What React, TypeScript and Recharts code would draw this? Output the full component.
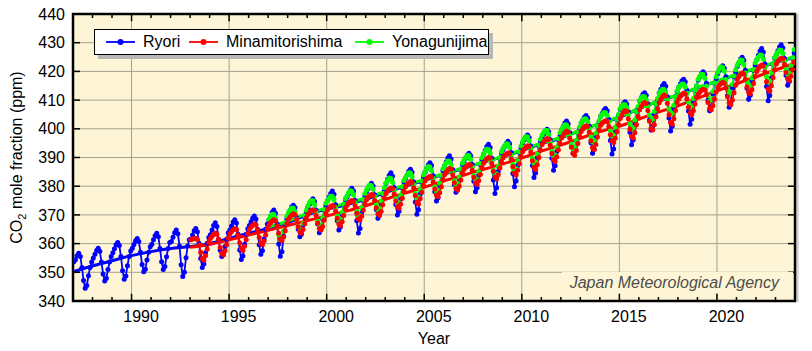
import React from 'react';
import {
    LineChart,
    Line,
    XAxis,
    YAxis,
    CartesianGrid,
    ReferenceLine,
    ReferenceArea,
    Legend,
    Label
} from 'recharts';

// monthly CO2 (ppm), one row per year, Jan..Dec
const ryoriStart = 1987;
const ryori = [
    353.7, 354.4, 355.8, 356.6, 355.5, 351.7, 347.1, 344.4, 345.4, 348.8, 351.7, 353.6, // 1987
    355.0, 356.3, 357.6, 358.4, 357.3, 353.6, 349.4, 347.0, 347.9, 351.0, 353.6, 355.5,
    356.8, 358.2, 359.6, 360.4, 359.3, 355.5, 350.5, 347.6, 348.7, 352.3, 355.5, 357.4,
    358.4, 359.7, 361.0, 361.8, 360.7, 357.0, 352.7, 350.2, 351.1, 354.3, 357.0, 358.9, // 1990
    359.8, 361.3, 362.7, 363.6, 362.4, 358.3, 353.7, 351.0, 352.0, 355.4, 358.3, 360.4,
    360.7, 362.2, 363.8, 364.7, 363.4, 359.2, 352.6, 348.5, 350.0, 355.1, 359.2, 361.3,
    361.5, 363.0, 364.5, 365.3, 364.1, 360.1, 354.8, 351.7, 352.9, 356.8, 360.1, 362.1,
    363.1, 364.7, 366.3, 367.3, 366.0, 361.5, 357.7, 355.5, 356.3, 359.0, 361.5, 363.8,
    364.7, 366.1, 367.5, 368.3, 367.2, 363.3, 357.8, 354.5, 355.7, 359.8, 363.3, 365.2, // 1995
    366.3, 367.6, 368.8, 369.6, 368.6, 365.0, 359.6, 356.3, 357.5, 361.6, 365.0, 366.8,
    368.2, 369.5, 370.9, 371.7, 370.6, 366.8, 359.9, 355.6, 357.2, 362.6, 366.8, 368.7,
    370.4, 371.6, 372.8, 373.4, 372.6, 369.1, 365.0, 362.4, 363.3, 366.5, 369.1, 370.9,
    372.7, 373.8, 374.9, 375.6, 374.7, 371.6, 366.8, 363.8, 364.9, 368.6, 371.6, 373.2,
    374.9, 376.2, 377.5, 378.3, 377.2, 373.5, 368.0, 364.7, 365.9, 370.1, 373.5, 375.4, // 2000
    376.2, 377.4, 378.6, 379.3, 378.3, 375.0, 368.0, 363.7, 365.3, 370.7, 375.0, 376.7,
    378.1, 379.2, 380.3, 381.0, 380.1, 377.0, 371.9, 368.8, 370.0, 373.9, 377.0, 378.6,
    380.9, 382.4, 383.8, 384.7, 383.5, 379.5, 373.6, 370.0, 371.3, 375.8, 379.5, 381.5,
    382.7, 383.9, 385.2, 385.9, 384.9, 381.5, 374.5, 370.2, 371.8, 377.2, 381.5, 383.2,
    384.9, 386.2, 387.4, 388.2, 387.2, 383.6, 378.1, 374.8, 376.0, 380.2, 383.6, 385.4, // 2005
    387.1, 388.4, 389.8, 390.6, 389.5, 385.7, 380.5, 377.9, 379.0, 382.6, 385.7, 387.6,
    388.7, 389.8, 390.9, 391.5, 390.6, 387.6, 381.7, 378.1, 379.5, 383.9, 387.6, 389.2,
    391.1, 392.4, 393.8, 394.6, 393.5, 389.7, 382.2, 377.5, 379.5, 385.1, 389.7, 391.6,
    392.8, 393.9, 395.0, 395.7, 394.8, 391.7, 384.4, 379.8, 381.8, 387.3, 391.7, 393.3,
    395.1, 396.1, 397.2, 397.8, 397.0, 394.0, 387.2, 383.0, 384.6, 390.0, 394.0, 395.5, // 2010
    397.2, 398.2, 399.2, 399.8, 399.0, 396.2, 389.7, 385.6, 387.1, 392.2, 396.2, 397.6,
    399.7, 400.9, 402.0, 402.7, 401.8, 398.6, 394.1, 391.5, 392.5, 395.8, 398.6, 400.2,
    402.0, 403.0, 404.0, 404.6, 403.8, 401.0, 395.1, 391.5, 392.9, 397.4, 401.0, 402.4,
    404.4, 405.4, 406.5, 407.1, 406.3, 403.3, 395.9, 391.2, 393.0, 398.8, 403.3, 404.8,
    406.9, 407.8, 408.8, 409.4, 408.6, 405.9, 398.8, 394.4, 396.1, 401.6, 405.9, 407.3, // 2015
    409.8, 410.9, 412.0, 412.6, 411.7, 408.7, 403.1, 399.6, 400.9, 405.2, 408.7, 410.2,
    412.5, 413.8, 415.0, 415.8, 414.8, 411.2, 403.8, 399.2, 400.9, 406.7, 411.2, 413.0,
    414.5, 415.6, 416.7, 417.3, 416.4, 413.4, 406.2, 401.6, 403.3, 409.0, 413.4, 414.9,
    417.0, 418.1, 419.2, 419.9, 419.0, 415.9, 409.9, 406.3, 407.7, 412.2, 415.9, 417.4,
    419.2, 420.3, 421.4, 422.0, 421.1, 418.1, 411.6, 407.5, 409.0, 414.1, 418.1, 419.6, // 2020
    421.7, 422.9, 424.2, 424.9, 423.9, 420.4, 414.1, 410.3, 411.7, 416.5, 420.4, 422.2,
    424.1, 425.6, 427.1, 428.0, 426.8, 422.6, 414.7, 409.8, 411.6, 417.7, 422.6, 424.7,
    425.9, 427.2, 428.5, 429.3, 428.2, 424.5, 418.7, 415.2, 416.5, 420.9, 424.5, 426.4,
];

const minamiStart = 1993;
const minami = [
    361.3, 361.6, 361.8, 361.9, 361.4, 359.5, 357.0, 354.8, 354.3, 355.8, 358.0, 360.4, // 1993
    361.8, 362.6, 363.2, 363.6, 363.3, 361.5, 358.6, 356.6, 356.0, 357.5, 359.6, 361.9,
    363.4, 364.2, 364.8, 365.2, 364.9, 363.0, 360.3, 358.2, 357.6, 359.1, 361.3, 363.5, // 1995
    365.0, 365.8, 366.4, 366.8, 366.5, 364.8, 362.2, 360.2, 359.6, 360.9, 363.0, 365.2,
    366.5, 367.3, 367.9, 368.3, 368.0, 366.2, 363.6, 361.6, 361.0, 362.3, 364.5, 366.9,
    368.5, 369.3, 369.9, 370.4, 370.1, 368.4, 365.9, 364.1, 363.6, 364.9, 366.9, 369.0,
    370.1, 370.9, 371.5, 371.8, 371.5, 369.8, 367.2, 365.3, 364.7, 366.0, 368.2, 370.5,
    371.7, 372.5, 373.0, 373.3, 373.0, 371.3, 368.8, 366.8, 366.2, 367.6, 369.8, 372.2, // 2000
    373.4, 374.2, 374.7, 375.0, 374.7, 373.1, 370.6, 368.7, 368.2, 369.5, 371.6, 373.9,
    375.3, 376.2, 376.7, 377.1, 376.8, 375.0, 372.5, 370.4, 369.8, 371.2, 373.5, 375.9,
    377.5, 378.4, 379.0, 379.4, 379.1, 377.3, 374.8, 372.8, 372.3, 373.7, 375.8, 378.3,
    379.8, 380.6, 381.2, 381.6, 381.3, 379.5, 376.8, 374.4, 373.8, 375.6, 377.9, 380.3,
    381.8, 382.6, 383.1, 383.5, 383.2, 381.5, 379.0, 376.9, 376.3, 377.7, 379.8, 382.3, // 2005
    384.0, 384.9, 385.7, 386.2, 385.9, 384.0, 381.2, 379.2, 378.6, 380.0, 382.2, 384.6,
    385.9, 386.7, 387.2, 387.6, 387.3, 385.6, 383.1, 381.2, 380.6, 381.9, 384.1, 386.5,
    388.0, 388.9, 389.6, 390.0, 389.7, 387.9, 385.2, 383.2, 382.6, 384.0, 386.3, 388.6,
    389.9, 390.7, 391.2, 391.6, 391.3, 389.5, 386.8, 384.6, 384.0, 385.6, 387.8, 390.4,
    392.0, 393.0, 393.7, 394.1, 393.8, 391.9, 388.9, 386.5, 385.8, 387.5, 390.0, 392.6, // 2010
    394.5, 395.5, 396.2, 396.6, 396.3, 394.3, 391.4, 389.2, 388.6, 390.2, 392.6, 395.0,
    396.8, 397.8, 398.6, 399.2, 398.8, 396.7, 393.6, 391.4, 390.8, 392.4, 394.9, 397.6,
    399.1, 400.0, 400.7, 401.1, 400.8, 398.8, 395.8, 393.4, 392.8, 394.5, 397.1, 399.6,
    401.2, 402.0, 402.5, 402.8, 402.5, 400.8, 397.9, 395.8, 395.2, 396.7, 399.0, 401.5,
    403.6, 404.8, 405.8, 406.4, 406.0, 403.5, 399.8, 397.4, 396.8, 398.6, 401.4, 404.3, // 2015
    406.6, 407.8, 408.7, 409.2, 408.8, 406.4, 402.6, 400.2, 399.6, 401.4, 404.2, 407.0,
    409.1, 410.3, 411.2, 411.8, 411.4, 408.9, 404.9, 402.3, 401.6, 403.5, 406.4, 409.2,
    410.4, 411.3, 411.9, 412.4, 412.1, 410.4, 407.5, 405.6, 405.0, 406.3, 408.6, 411.0,
    412.0, 412.8, 413.4, 413.8, 413.5, 411.9, 409.2, 407.2, 406.6, 408.0, 410.3, 412.8,
    414.4, 415.2, 415.8, 416.2, 415.9, 414.2, 411.2, 409.0, 408.4, 410.0, 412.6, 415.2, // 2020
    417.3, 418.2, 418.9, 419.4, 419.1, 417.3, 414.6, 412.8, 412.2, 413.6, 415.8, 418.2,
    420.0, 421.0, 421.8, 422.2, 421.9, 419.8, 416.4, 413.9, 413.2, 415.0, 417.8, 420.5,
    422.6, 423.5, 424.2, 424.6, 424.3, 422.5, 419.6, 417.4, 416.8, 418.3, 420.7, 423.3,
];

const yonaguniStart = 1997;
const yonaguni = [
    368.5, 369.5, 370.2, 370.1, 368.8, 366.1, 363.1, 361.3, 361.8, 364.4, 367.3, 369.4, // 1997
    370.8, 371.7, 372.4, 372.3, 371.1, 368.6, 366.0, 364.4, 364.8, 367.0, 369.6, 371.6,
    373.2, 374.3, 375.0, 374.9, 373.6, 370.8, 367.8, 366.0, 366.4, 369.0, 371.9, 374.1,
    374.9, 375.8, 376.5, 376.4, 375.2, 372.6, 369.6, 367.8, 368.3, 370.8, 373.7, 375.7, // 2000
    376.7, 377.7, 378.4, 378.2, 377.0, 374.3, 371.2, 369.4, 369.9, 372.5, 375.4, 377.5,
    378.7, 379.6, 380.3, 380.2, 379.0, 376.4, 373.6, 371.9, 372.3, 374.8, 377.5, 379.5,
    381.1, 382.1, 382.9, 382.7, 381.4, 378.6, 375.6, 373.8, 374.2, 376.8, 379.8, 382.0,
    383.0, 384.0, 384.7, 384.6, 383.3, 380.6, 377.5, 375.7, 376.2, 378.8, 381.8, 383.9,
    385.1, 386.2, 386.9, 386.7, 385.5, 382.7, 379.8, 378.1, 378.5, 381.0, 383.8, 386.0, // 2005
    387.1, 388.1, 388.8, 388.7, 387.4, 384.8, 381.9, 380.2, 380.7, 383.1, 385.9, 388.0,
    389.1, 390.0, 390.7, 390.6, 389.4, 386.7, 383.7, 381.9, 382.4, 385.0, 387.9, 389.9,
    391.2, 392.2, 392.9, 392.8, 391.5, 388.7, 385.6, 383.8, 384.3, 386.9, 389.9, 392.0,
    393.2, 394.1, 394.8, 394.7, 393.5, 390.8, 387.6, 385.7, 386.2, 388.9, 392.0, 394.0,
    395.5, 396.5, 397.2, 397.1, 395.8, 393.1, 389.8, 387.9, 388.4, 391.2, 394.3, 396.4, // 2010
    397.8, 398.8, 399.5, 399.4, 398.1, 395.3, 392.2, 390.4, 390.9, 393.5, 396.5, 398.6,
    399.8, 400.7, 401.4, 401.3, 400.1, 397.6, 394.6, 392.9, 393.3, 395.9, 398.7, 400.6,
    402.1, 402.9, 403.5, 403.4, 402.4, 400.1, 397.2, 395.4, 395.9, 398.4, 401.1, 402.8,
    404.4, 405.1, 405.7, 405.6, 404.6, 402.4, 399.3, 397.5, 397.9, 400.6, 403.4, 405.0,
    407.1, 407.9, 408.5, 408.4, 407.3, 405.0, 401.8, 399.9, 400.4, 403.1, 406.0, 407.8, // 2015
    409.9, 410.7, 411.3, 411.2, 410.1, 407.8, 404.8, 403.0, 403.5, 406.0, 408.8, 410.6,
    412.3, 413.2, 413.8, 413.7, 412.6, 410.1, 406.9, 405.0, 405.5, 408.2, 411.2, 413.1,
    414.4, 415.1, 415.6, 415.5, 414.6, 412.4, 409.3, 407.5, 408.0, 410.6, 413.5, 415.0,
    417.3, 418.3, 419.0, 418.9, 417.6, 414.8, 411.6, 409.7, 410.2, 413.0, 416.0, 418.1,
    419.7, 420.8, 421.6, 421.4, 420.1, 417.2, 414.1, 412.3, 412.8, 415.4, 418.4, 420.6, // 2020
    422.1, 423.2, 424.0, 423.9, 422.4, 419.4, 416.4, 414.6, 415.1, 417.7, 420.6, 423.0,
    424.0, 425.0, 425.7, 425.6, 424.3, 421.5, 418.2, 416.2, 416.7, 419.6, 422.7, 424.8,
    425.9, 426.8, 427.5, 427.4, 426.2, 423.6, 420.7, 419.0, 419.5, 421.9, 424.7, 427.6,
];

// deseasonalized trend, value at 1 January of each year
const ryoriTrend = [
    350.2, 352.2, 354.0, 355.8, 357.2, 358.3, 359.0, 360.0, 361.8, 363.6, 365.3, 367.3, 370.0,
    372.0, 373.5, 375.4, 377.8, 380.0, 382.0, 384.2, 386.2, 388.3, 390.2, 392.4, 394.8, 396.8,
    399.4, 401.8, 404.0, 407.0, 409.6, 411.8, 414.2, 416.6, 418.8, 421.0, 423.0, 425.0,
];
const minamiTrend = [
    358.7, 359.7, 361.3, 363.0, 364.6, 366.3, 368.0, 369.6, 371.3, 373.2, 375.4, 377.6, 379.6,
    381.8, 383.8, 385.8, 387.7, 389.8, 392.2, 394.3, 396.7, 399.0, 400.9, 403.4, 405.8, 408.0,
    410.6, 413.2, 415.7, 418.1, 420.5, 422.8,
];
const yonaguniTrend = [
    365.8, 367.8, 370.5, 372.4, 374.0, 375.9, 378.2, 380.3, 382.3, 384.4, 386.4, 388.4, 390.4,
    392.6, 395.0, 397.0, 399.5, 401.9, 404.2, 407.1, 409.7, 411.9, 414.3, 416.7, 419.0, 421.2,
    423.2, 425.2,
];

const yearTicks = [1990, 1995, 2000, 2005, 2010, 2015, 2020];
const ppmTicks = [340, 350, 360, 370, 380, 390, 400, 410, 420, 430, 440];
const stations = [
    { name: 'Ryori', color: '#0000ff' },
    { name: 'Minamitorishima', color: '#ff0000' },
    { name: 'Yonagunijima', color: '#00ff00' },
];

const X0 = 1987;
const X1 = 2024;
const Y0 = 340;
const Y1 = 440;
const FONT = '"Liberation Sans", Arial, Helvetica, sans-serif';
const PLOT_BG = '#fdf5d6';

const monthly = (start: number, vals: number[]) =>
    vals.map((v, i) => ({ t: start + (i + 0.5) / 12, v }));
const yearly = (start: number, vals: number[]) => vals.map((v, i) => ({ t: start + i, v }));

const ryoriData = monthly(ryoriStart, ryori);
const minamiData = monthly(minamiStart, minami);
const yonaguniData = monthly(yonaguniStart, yonaguni);
const ryoriTrendData = yearly(ryoriStart, ryoriTrend);
const minamiTrendData = yearly(minamiStart, minamiTrend);
const yonaguniTrendData = yearly(yonaguniStart, yonaguniTrend);

const minorYears: number[] = [];
for (let y = X0 + 1; y < X1; y++) if (!yearTicks.includes(y)) minorYears.push(y);
const innerPpm = ppmTicks.filter((p) => p > Y0 && p < Y1);

const Frame = (p: any) => (
    <g>
        <rect x={p.x + p.width + 1.2} y={p.y} width={2.5} height={p.height + 1} fill="#cfcfcf" />
        <rect x={p.x} y={p.y} width={p.width} height={p.height} fill="none" stroke="#000" strokeWidth={2.5} />
    </g>
);

const YTitle = (props: any) => {
    const vb = props.viewBox || { y: 14, height: 287 };
    const cx = 22;
    const cy = vb.y + vb.height / 2;
    return (
        <text x={cx} y={cy} transform={`rotate(-90 ${cx} ${cy})`} textAnchor="middle" fontSize={16} fill="#000">
            CO<tspan dy={4} fontSize={11}>2</tspan>
            <tspan dy={-4}> mole fraction (ppm)</tspan>
        </text>
    );
};

const legendLeft = [11, 94, 260];

const LegendBox = () => (
    <div
        style={{
            position: 'relative',
            width: 395,
            height: 26,
            background: '#fff',
            border: '1.5px solid #000',
            boxSizing: 'border-box',
            boxShadow: '4px 4px 0 #b8b8b8',
            fontFamily: FONT,
            fontSize: 16,
        }}
    >
        {stations.map((s, i) => (
            <div key={s.name} style={{ position: 'absolute', left: legendLeft[i], top: 0, height: 23, display: 'flex', alignItems: 'center' }}>
                <svg width={30} height={10} style={{ display: 'block' }}>
                    <line x1={0} y1={5} x2={29} y2={5} stroke={s.color} strokeWidth={1.8} />
                    <circle cx={14.5} cy={5} r={3} fill={s.color} />
                </svg>
                <span style={{ marginLeft: 7, color: '#000', whiteSpace: 'nowrap' }}>{s.name}</span>
            </div>
        ))}
    </div>
);

const dotStyle = (c: string) => ({ r: 2.5, fill: c, stroke: c, strokeWidth: 0 });

export default function App() {
    return (
        <div style={{ position: 'absolute', left: 0, top: 0, width: 812, height: 351, background: '#fff', fontFamily: FONT }}>
            <LineChart width={812} height={351} margin={{ top: 14, right: 17, bottom: 0, left: 0 }}>
                <CartesianGrid stroke="#a6a28e" strokeWidth={1} fill={PLOT_BG} fillOpacity={1} />
                <XAxis
                    type="number"
                    dataKey="t"
                    domain={[X0, X1]}
                    ticks={yearTicks}
                    interval={0}
                    allowDataOverflow
                    height={50}
                    axisLine={false}
                    tickLine={false}
                    tickSize={0}
                    tickMargin={10}
                    tick={{ fill: '#000', fontSize: 16, dx: 9.5 }}
                >
                    <Label value="Year" position="insideBottom" offset={7} fill="#000" fontSize={16} />
                </XAxis>
                <YAxis
                    type="number"
                    domain={[Y0, Y1]}
                    ticks={ppmTicks}
                    interval={0}
                    allowDataOverflow
                    width={73}
                    axisLine={false}
                    tickLine={false}
                    tickSize={0}
                    tickMargin={8}
                    tick={{ fill: '#000', fontSize: 16 }}
                >
                    <Label content={YTitle} />
                </YAxis>

                <Line data={ryoriData} dataKey="v" type="linear" stroke="#0000ff" strokeWidth={1.8} dot={dotStyle('#0000ff')} activeDot={false} isAnimationActive={false} />
                <Line data={ryoriTrendData} dataKey="v" type="monotone" stroke="#0000ff" strokeWidth={3} dot={false} activeDot={false} isAnimationActive={false} />
                <Line data={yonaguniData} dataKey="v" type="linear" stroke="#00ff00" strokeWidth={1.8} dot={dotStyle('#00ff00')} activeDot={false} isAnimationActive={false} />
                <Line data={yonaguniTrendData} dataKey="v" type="monotone" stroke="#00ff00" strokeWidth={3} dot={false} activeDot={false} isAnimationActive={false} />
                <Line data={minamiData} dataKey="v" type="linear" stroke="#ff0000" strokeWidth={1.8} dot={dotStyle('#ff0000')} activeDot={false} isAnimationActive={false} />
                <Line data={minamiTrendData} dataKey="v" type="monotone" stroke="#ff0000" strokeWidth={3} dot={false} activeDot={false} isAnimationActive={false} />

                {/* inward tick marks on all four sides */}
                {minorYears.map((y) => (
                    <ReferenceLine key={'mb' + y} segment={[{ x: y, y: Y0 }, { x: y, y: Y0 + 1.4 }]} stroke="#000" strokeWidth={1.5} />
                ))}
                {minorYears.map((y) => (
                    <ReferenceLine key={'mt' + y} segment={[{ x: y, y: Y1 - 1.4 }, { x: y, y: Y1 }]} stroke="#000" strokeWidth={1.5} />
                ))}
                {yearTicks.map((y) => (
                    <ReferenceLine key={'b' + y} segment={[{ x: y, y: Y0 }, { x: y, y: Y0 + 2.5 }]} stroke="#000" strokeWidth={1.5} />
                ))}
                {yearTicks.map((y) => (
                    <ReferenceLine key={'t' + y} segment={[{ x: y, y: Y1 - 2.5 }, { x: y, y: Y1 }]} stroke="#000" strokeWidth={1.5} />
                ))}
                {innerPpm.map((p) => (
                    <ReferenceLine key={'l' + p} segment={[{ x: X0, y: p }, { x: X0 + 0.36, y: p }]} stroke="#000" strokeWidth={1.5} />
                ))}
                {innerPpm.map((p) => (
                    <ReferenceLine key={'r' + p} segment={[{ x: X1 - 0.36, y: p }, { x: X1, y: p }]} stroke="#000" strokeWidth={1.5} />
                ))}
                <ReferenceArea x1={X0} x2={X1} y1={Y0} y2={Y1} ifOverflow="visible" shape={Frame} />

                <Legend
                    layout="horizontal"
                    verticalAlign="middle"
                    align="center"
                    content={LegendBox}
                    wrapperStyle={{ position: 'absolute', left: 94, top: 29, width: 395, height: 26 }}
                />
            </LineChart>
            <div
                style={{
                    position: 'absolute',
                    left: 562,
                    top: 272,
                    width: 231,
                    height: 21,
                    background: PLOT_BG,
                    color: '#4d4d4d',
                    fontStyle: 'italic',
                    fontSize: 16,
                    lineHeight: '21px',
                    textAlign: 'right',
                    paddingRight: 14,
                    boxSizing: 'border-box',
                    whiteSpace: 'nowrap',
                }}
            >
                Japan Meteorological Agency
            </div>
        </div>
    );
}
